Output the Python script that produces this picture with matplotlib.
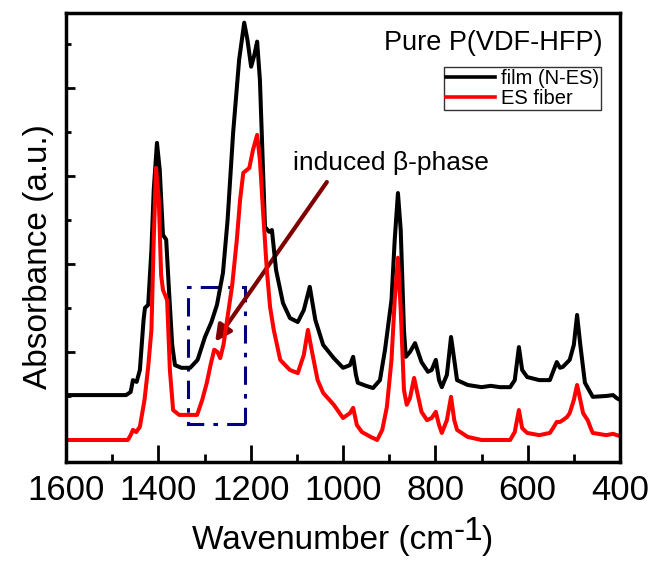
import matplotlib
matplotlib.use("Agg")
import matplotlib.pyplot as plt
from matplotlib.patches import Rectangle, FancyArrowPatch
from matplotlib.ticker import MultipleLocator

plt.rcParams['font.family'] = ['Liberation Sans', 'DejaVu Sans']

# film (N-ES), black curve
film_wn = [1600, 1470, 1460, 1455, 1447, 1440, 1432, 1429, 1422, 1415, 1410, 1403,
           1397, 1390, 1383, 1377, 1370, 1364, 1350, 1331, 1315, 1299, 1285, 1273,
           1260, 1250, 1238, 1225, 1214, 1207, 1199, 1192, 1186, 1180, 1169, 1160,
           1154, 1145, 1130, 1115, 1098, 1085, 1072, 1060, 1043, 1020, 1000, 985,
           978, 972, 968, 950, 935, 920, 909, 895, 888, 881, 875, 868, 864, 855,
           844, 830, 816, 808, 799, 792, 786, 775, 766, 759, 753, 730, 700, 680,
           660, 638, 628, 619, 612, 601, 575, 552, 537, 530, 524, 509, 500, 493,
           486, 476, 459, 430, 415, 407, 400]
film_abs = [1.02, 1.02, 1.09, 1.36, 1.32, 1.59, 2.73, 3.00, 3.07, 4.32, 5.68, 6.75,
            6.14, 4.66, 4.55, 3.41, 2.16, 1.70, 1.64, 1.64, 1.82, 2.34, 2.68, 3.07,
            3.80, 5.00, 6.98, 8.64, 9.48, 9.09, 8.48, 8.75, 9.05, 8.18, 4.84, 4.73,
            4.77, 3.86, 3.11, 2.77, 2.68, 2.95, 3.48, 2.73, 2.16, 1.86, 1.64, 1.70,
            1.89, 1.48, 1.30, 1.23, 1.18, 1.36, 2.05, 3.18, 4.55, 5.61, 4.77, 2.50,
            1.89, 2.00, 2.20, 1.77, 1.55, 1.59, 1.82, 1.36, 1.20, 1.48, 2.34, 1.82,
            1.36, 1.25, 1.20, 1.23, 1.20, 1.20, 1.36, 2.11, 1.59, 1.43, 1.36, 1.36,
            1.77, 1.64, 1.66, 1.82, 2.16, 2.84, 2.16, 1.30, 0.98, 1.00, 1.02, 0.95,
            0.91]

# ES fiber, red curve
fiber_wn = [1600, 1466, 1460, 1455, 1448, 1440, 1430, 1422, 1415, 1410, 1405, 1399,
            1394, 1390, 1381, 1375, 1368, 1355, 1338, 1316, 1305, 1295, 1287, 1279,
            1272, 1266, 1259, 1251, 1240, 1230, 1223, 1216, 1203, 1195, 1186, 1180,
            1173, 1165, 1158, 1150, 1136, 1115, 1098, 1085, 1076, 1068, 1055, 1043,
            1020, 1000, 985, 978, 970, 959, 940, 926, 915, 905, 895, 888, 881, 875,
            868, 862, 855, 846, 838, 830, 818, 808, 799, 792, 786, 775, 766, 759,
            753, 730, 700, 660, 638, 628, 619, 612, 601, 575, 552, 545, 537, 530,
            524, 515, 509, 500, 493, 486, 480, 470, 462, 459, 430, 415, 407, 400]
fiber_abs = [0.00, 0.00, 0.11, 0.23, 0.18, 0.30, 0.91, 1.66, 2.50, 4.55, 6.18, 5.45,
             3.75, 3.41, 3.18, 1.59, 0.68, 0.57, 0.57, 0.57, 0.91, 1.30, 1.70, 2.05,
             2.00, 1.86, 2.16, 2.73, 3.52, 4.55, 5.45, 6.07, 6.18, 6.59, 6.93, 6.36,
             5.16, 3.86, 3.02, 2.50, 1.82, 1.59, 1.52, 1.93, 2.50, 2.05, 1.36, 1.07,
             0.80, 0.50, 0.61, 0.73, 0.34, 0.18, 0.07, 0.00, 0.23, 0.75, 1.82, 3.18,
             4.14, 2.95, 1.14, 0.80, 0.95, 1.41, 1.02, 0.64, 0.45, 0.50, 0.64, 0.34,
             0.16, 0.45, 0.98, 0.45, 0.23, 0.07, 0.00, 0.00, 0.00, 0.18, 0.68, 0.27,
             0.16, 0.11, 0.16, 0.27, 0.41, 0.41, 0.45, 0.52, 0.61, 0.91, 1.25, 0.91,
             0.61, 0.45, 0.23, 0.16, 0.11, 0.14, 0.11, 0.09]

labels = ['film (N-ES)', 'ES fiber']
colors = ['black', 'red']

# beta-phase box (wavenumber range, absorbance range) and arrow ends
box_wn = [1336, 1212]
box_abs = [0.36, 3.48]
arrow_from = (1035, 5.86)
arrow_to = (1277, 2.23)

fig = plt.figure(figsize=(6.51, 5.63), dpi=100)
ax = fig.add_axes([0.1014, 0.1794, 0.851, 0.7975])

ax.plot(film_wn, film_abs, color=colors[0], lw=2.9, label=labels[0], solid_joinstyle='round')
ax.plot(fiber_wn, fiber_abs, color=colors[1], lw=2.9, label=labels[1], solid_joinstyle='round')

rect = Rectangle((box_wn[1], box_abs[0]), box_wn[0] - box_wn[1], box_abs[1] - box_abs[0],
                 fill=False, edgecolor='#000080', lw=2.2, linestyle=(0, (6, 3, 1.5, 3)))
ax.add_patch(rect)

arr = FancyArrowPatch(arrow_from, arrow_to, arrowstyle='-|>', mutation_scale=24,
                      color='#800000', lw=3, shrinkA=0, shrinkB=0)
ax.add_patch(arr)

ax.text(0.4097, 0.6503, 'induced β-phase', transform=ax.transAxes, fontsize=19,
        ha='left', va='baseline')
ax.text(0.9675, 0.9176, 'Pure P(VDF-HFP)', transform=ax.transAxes, fontsize=19.5,
        ha='right', va='baseline')

leg = ax.legend(loc='upper right', bbox_to_anchor=(0.9657, 0.8797), fontsize=14.5,
                frameon=True, fancybox=False, borderaxespad=0, borderpad=0.1,
                handlelength=2.4, handletextpad=0.3, labelspacing=0.05)
leg.get_frame().set_edgecolor('black')
leg.get_frame().set_linewidth(1)
for line in leg.get_lines():
    line.set_linewidth(2.6)

ax.set_xlim(1600, 400)
ax.set_ylim(-0.5, 9.7)
ax.xaxis.set_major_locator(MultipleLocator(200))
ax.xaxis.set_minor_locator(MultipleLocator(100))
ax.yaxis.set_major_locator(MultipleLocator(2))
ax.yaxis.set_minor_locator(MultipleLocator(1))
ax.tick_params(which='both', direction='in', top=False, right=False, width=2)
ax.tick_params(axis='x', which='major', length=12)
ax.tick_params(axis='x', which='minor', length=6)
ax.tick_params(axis='y', which='major', length=6.5)
ax.tick_params(axis='y', which='minor', length=3.6)
ax.tick_params(axis='x', labelsize=25, pad=9)
ax.tick_params(axis='y', labelleft=False)
for s in ax.spines.values():
    s.set_linewidth(2.5)

# x label with a full-size raised "-1"
ax.text(0.700, -0.1938, 'Wavenumber (cm', transform=ax.transAxes, fontsize=24,
        ha='right', va='baseline')
ax.text(0.700, -0.1737, '-1', transform=ax.transAxes, fontsize=24,
        ha='left', va='baseline')
ax.text(0.751, -0.1938, ')', transform=ax.transAxes, fontsize=24,
        ha='left', va='baseline')

ax.text(-0.0505, 0.4566, 'Absorbance (a.u.)', transform=ax.transAxes, fontsize=24,
        rotation=90, ha='center', va='center')

fig.savefig('out.png', dpi=100)
